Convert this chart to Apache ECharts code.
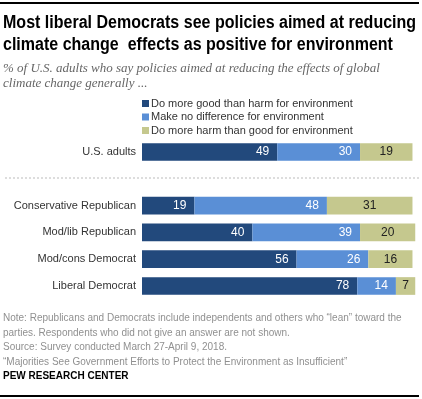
<!DOCTYPE html>
<html>
<head>
<meta charset="utf-8">
<script src="https://cdn.jsdelivr.net/npm/echarts@6/dist/echarts.min.js"></script>
<style>
  html, body { margin: 0; padding: 0; background: #fff; }
  #wrap { position: relative; width: 422px; height: 399px; }
  #chart { width: 422px; height: 399px; }
  .rule { position: absolute; left: 0; width: 419px; background: #000; }
</style>
</head>
<body>
<div id="wrap">
  <div id="chart"></div>
  <div class="rule" style="top:2px;height:2px"></div>
  <div class="rule" style="top:395px;height:2px"></div>
</div>
<script>
// groups, top to bottom; the empty slot leaves room for the dotted divider
var categories = ['U.S. adults', '', 'Conservative Republican', 'Mod/lib Republican', 'Mod/cons Democrat', 'Liberal Democrat'];
var seriesNames = ['Do more good than harm for environment', 'Make no difference for environment', 'Do more harm than good for environment'];
var moreGood = [49, null, 19, 40, 56, 78];
var noDifference = [30, null, 48, 39, 26, 14];
var moreHarm = [19, null, 31, 20, 16, 7];

var colors = ['#22497c', '#5a8fd6', '#c5c88e'];
var sans = "'Liberation Sans', Arial, sans-serif";

var chartDom = document.getElementById('chart');
var myChart = echarts.init(chartDom, null, { renderer: 'canvas' });

function barSeries(name, data, color, labelColor, pos) {
    return {
        name: name,
        type: 'bar',
        stack: 'total',
        data: data,
        barCategoryGap: '34%',
        itemStyle: { color: color },
        label: {
            show: true,
            position: pos,
            distance: 8,
            color: labelColor,
            fontFamily: sans,
            fontSize: 12,
            formatter: function (p) { return p.value == null ? '' : p.value; }
        },
        emphasis: { disabled: true }
    };
}

var option = {
    animation: false,
    backgroundColor: '#fff',
    color: colors,
    grid: { left: 142, right: 4, top: 138.6, height: 160.8, containLabel: false },
    legend: {
        orient: 'vertical',
        left: 142,
        top: 98,
        icon: 'rect',
        itemWidth: 7,
        itemHeight: 7,
        itemGap: 2.5,
        padding: 0,
        selectedMode: false,
        textStyle: { fontFamily: sans, fontSize: 11, color: '#333', padding: [0, 0, 0, -3] },
        data: seriesNames
    },
    xAxis: {
        type: 'value',
        min: 0,
        max: 100,
        show: false
    },
    yAxis: {
        type: 'category',
        inverse: true,
        data: categories,
        axisLine: { show: false },
        axisTick: { show: false },
        axisLabel: { fontFamily: sans, fontSize: 11, color: '#333', margin: 6 }
    },
    series: [
        barSeries(seriesNames[0], moreGood, colors[0], '#fff', 'insideRight'),
        barSeries(seriesNames[1], noDifference, colors[1], '#fff', 'insideRight'),
        barSeries(seriesNames[2], moreHarm, colors[2], '#222', 'inside')
    ],
    graphic: [
        {
            type: 'text', x: 3, y: 12, scaleX: 0.89, originX: 0,
            style: {
                text: 'Most liberal Democrats see policies aimed at reducing\nclimate change  effects as positive for environment',
                font: "bold 18px 'Liberation Sans', sans-serif", fill: '#000', lineHeight: 22, verticalAlign: 'top'
            }
        },
        { type: 'text', left: 3, top: 61, style: { text: '% of U.S. adults who say policies aimed at reducing the effects of global\nclimate change generally ...', font: "italic 13px 'Liberation Serif', serif", fill: '#666', lineHeight: 15 } },
        { type: 'line', shape: { x1: 5, y1: 178, x2: 419, y2: 178 }, style: { stroke: '#bbb', lineWidth: 1, lineDash: [2, 2] } },
        { type: 'text', left: 3, top: 311, style: { text: 'Note: Republicans and Democrats include independents and others who \u201clean\u201d toward the\nparties. Respondents who did not give an answer are not shown.\nSource: Survey conducted March 27-April 9, 2018.\n\u201cMajorities See Government Efforts to Protect the Environment as Insufficient\u201d', font: "10px 'Liberation Sans', sans-serif", fill: '#909090', lineHeight: 14.5 } },
        { type: 'text', left: 3, top: 371, style: { text: 'PEW RESEARCH CENTER', font: "bold 10px 'Liberation Sans', sans-serif", fill: '#000' } }
    ]
};

option && myChart.setOption(option);
</script>
</body>
</html>
